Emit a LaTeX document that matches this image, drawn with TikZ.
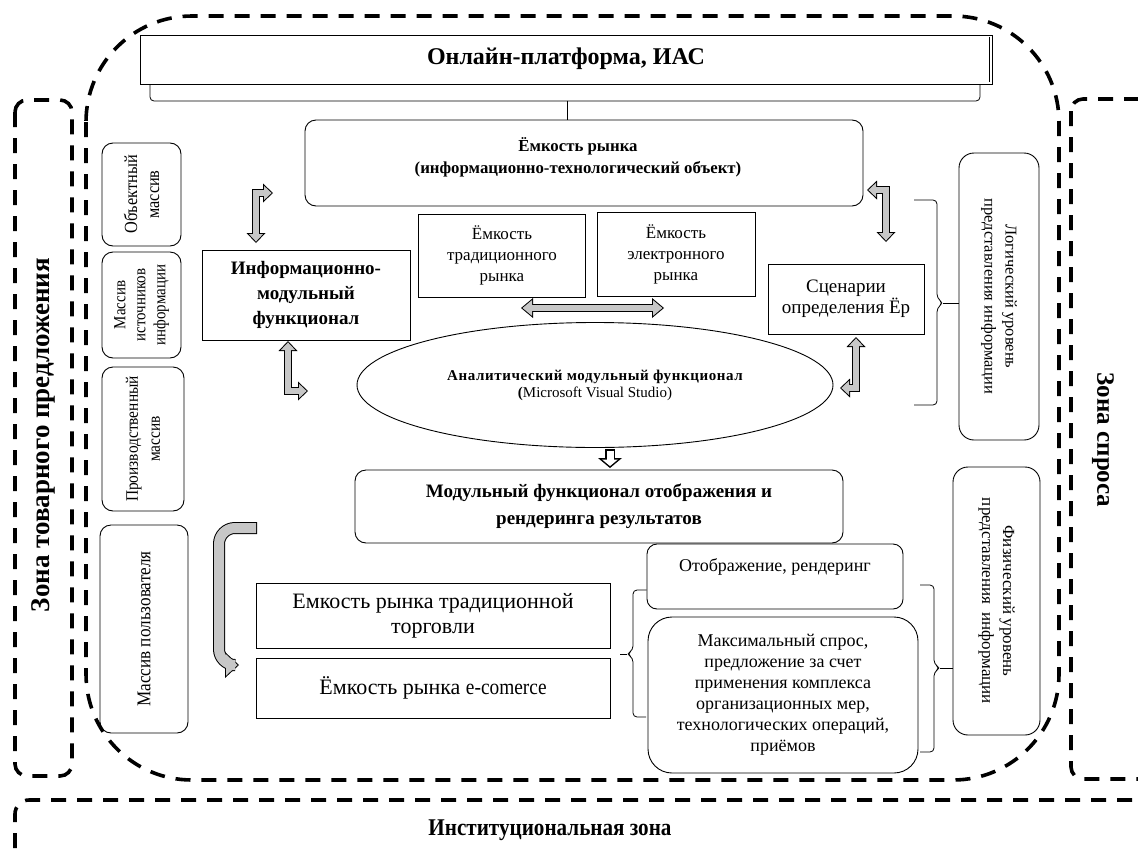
\documentclass[tikz,border=0pt]{standalone}
\usepackage{fontspec}
\setmainfont{Liberation Serif}
\newfontfamily\narrowserif[FakeStretch=0.88]{Liberation Serif}
\usetikzlibrary{arrows.meta,shapes.geometric,calc}
\newcommand\fsz[2]{\fontsize{#1}{#2}\selectfont}
\definecolor{arrowfill}{gray}{0.78}

\tikzset{
  zone/.style={line width=3.6pt, dash pattern=on 15pt off 11pt},
  box/.style={draw, line width=0.9pt, inner sep=0pt, align=center},
  rbox/.style={box, rounded corners=11pt},
  brace/.style={line width=0.8pt, rounded corners=4pt},
  % grey block arrows: black outer stroke, lighter inner stroke
  bentO/.style={draw=black, line width=8pt, line join=miter,
    {Triangle[length=10pt,width=19pt,line width=0pt]}-{Triangle[length=10pt,width=19pt,line width=0pt]}},
  bentI/.style={draw=arrowfill, line width=6pt, line join=miter, shorten <=1.45pt, shorten >=1.45pt,
    {Triangle[length=7.55pt,width=14.3pt,line width=0pt]}-{Triangle[length=7.55pt,width=14.3pt,line width=0pt]}},
  horO/.style={draw=black, line width=8pt,
    {Triangle[length=12pt,width=20pt,line width=0pt]}-{Triangle[length=12pt,width=20pt,line width=0pt]}},
  horI/.style={draw=arrowfill, line width=6pt, shorten <=1.56pt, shorten >=1.56pt,
    {Triangle[length=9.44pt,width=15.7pt,line width=0pt]}-{Triangle[length=9.44pt,width=15.7pt,line width=0pt]}},
  downO/.style={draw=black, line width=10pt, -{Triangle[length=10pt,width=24pt,line width=0pt]}},
  downI/.style={draw=white, line width=7pt, shorten <=1.5pt, shorten >=1.95pt,
    -{Triangle[length=6.55pt,width=15.7pt,line width=0pt]}},
  bigO/.style={draw=black, line width=12pt, rounded corners=16pt,
    -{Triangle[length=14pt,width=26pt,line width=0pt]}},
  bigI/.style={draw=arrowfill, line width=10pt, rounded corners=16pt, shorten <=1pt, shorten >=1.47pt,
    -{Triangle[length=11.5pt,width=21.4pt,line width=0pt]}},
}

\begin{document}
\begin{tikzpicture}[x=1pt, y=-1pt]
\path[use as bounding box] (0,0) rectangle (1138,854);
\clip (0,0) rectangle (1138,854);

% ---- dashed zones ----
\draw[zone, rounded corners=106pt] (86,16) rectangle (1059,780);
\draw[zone, rounded corners=12pt] (15,100) rectangle (72,776);
\draw[zone, rounded corners=12pt] (1071,99) rectangle (1180,779);
\draw[zone, rounded corners=14pt] (15,900) |- (1180,800);

\node[font=\fsz{27}{32}\bfseries, rotate=90] (zsupply) at (43,435) {Зона товарного предложения};
\node[font=\fsz{25}{30}\bfseries, rotate=-90] (zdemand) at (1103,440) {Зона спроса};
\node[font=\narrowserif\fsz{24}{28}\bfseries] (zinst) at (550,830) {Институциональная зона};

% ---- platform header ----
\node[box, minimum width=852pt, minimum height=49pt] (ias) at (566,59.5) {};
\draw[line width=1.6pt] ($(ias.north east)+(-3,2)$) -- ($(ias.south east)+(-3,-2)$);
\node[font=\fsz{24}{30}\bfseries] (iasT) at (566,59) {Онлайн-платформа, ИАС};

% brace under the header
\coordinate (hb) at (567,101);
\draw[brace] (150,84) |- (hb);
\draw[brace] (980,84) |- (hb);

% ---- market capacity ----
\node[rbox, minimum width=558pt, minimum height=86pt] (cap) at (584,163) {};
\node[font=\fsz{16.8}{22}\bfseries, align=center] (capT) at (578,157)
  {Ёмкость рынка\\(информационно-технологический объект)};
\draw[line width=0.8pt] (hb) -- (hb |- cap.north);

% ---- left column of arrays ----
\node[rbox, rotate=90, minimum width=103pt, minimum height=79pt, font=\narrowserif\fsz{18.5}{22}] (obj) at (141.5,194.5) {Объектный\\массив};
\node[rbox, rotate=90, minimum width=106pt, minimum height=79pt, font=\narrowserif\fsz{17}{20}] (src) at (141.5,305) {Массив\\источников\\информации};
\node[rbox, rotate=90, minimum width=144pt, minimum height=82pt, font=\narrowserif\fsz{17.5}{22}] (prod) at (143,439) {Производственный\\массив};
\node[rbox, rotate=90, minimum width=208pt, minimum height=88pt, font=\narrowserif\fsz{19.5}{22}] (user) at (144,629) {Массив пользователя};

% ---- central blocks ----
\node[box, minimum width=208pt, minimum height=90pt, font=\fsz{19}{25}\bfseries] (info) at (306,295) {Информационно-\\модульный\\функционал};
\node[box, minimum width=167pt, minimum height=83pt, font=\fsz{17}{21}] (trad) at (502,255.5) {Ёмкость\\традиционного\\рынка};
\node[box, minimum width=158pt, minimum height=84pt, font=\fsz{17}{21}] (elec) at (676,254) {Ёмкость\\электронного\\рынка};
\node[box, minimum width=156pt, minimum height=70pt, font=\fsz{19}{21}] (scen) at (846,299) {Сценарии\\определения Ёр};
\node[draw, line width=0.9pt, ellipse, inner sep=0pt, minimum width=476pt, minimum height=125pt, align=center, font=\fsz{15}{17}] (ell) at (595,385)
  {{\bfseries\addfontfeatures{LetterSpace=4}Аналитический модульный функционал}\\\textbf{(}Microsoft Visual Studio)};
\node[rbox, minimum width=488pt, minimum height=73pt, font=\fsz{19}{27}\bfseries] (disp) at (599,506.5) {Модульный функционал отображения и\\рендеринга результатов};

\node[box, minimum width=354pt, minimum height=65pt, font=\fsz{22}{25}] (tsale) at (433,615.5) {Емкость рынка традиционной\\торговли};
\node[box, minimum width=354pt, minimum height=60pt, font=\fsz{22}{25}] (ecom) at (433,688) {Ёмкость рынка {\narrowserif e-comerce}};

\node[rbox, rounded corners=10pt, minimum width=256pt, minimum height=65pt] (render) at (775,576.5) {};
\node[font=\fsz{18}{21}] (renderT) at (775,567) {Отображение, рендеринг};
\node[rbox, rounded corners=24pt, minimum width=270pt, minimum height=156pt, font=\fsz{18}{21}] (maxd) at (783,695)
  {Максимальный спрос,\\предложение за счет\\применения комплекса\\организационных мер,\\технологических операций,\\приёмов};

% ---- right column ----
\node[rbox, rounded corners=15pt, rotate=-90, minimum width=287pt, minimum height=80pt, font=\fsz{16.5}{21}] (logic) at (999,296.5) {Логический уровень\\представления информации};
\node[rbox, rounded corners=15pt, rotate=-90, minimum width=268pt, minimum height=87pt, font=\fsz{17}{21}] (phys) at (996.5,601) {Физический уровень\\представления\ \ информации};

% ---- braces ----
\coordinate (lgtip) at (943,303);
\draw[brace] (914,200) -| (937,298) -- (lgtip) -- (937,308) |- (914,405);
\draw[line width=0.8pt] (lgtip) -- (lgtip -| logic.south);
\coordinate (phtip) at (940,668);
\draw[brace] (920,585) -| (934,664) -- (phtip) -- (934,672) |- (920,752);
\draw[line width=0.8pt] (phtip) -- (phtip -| phys.south);
\coordinate (tstip) at (627,654);
\coordinate (tsend) at (620,654);
\draw[brace] (render.west |- 0,590) -| (633,650) -- (tstip) -- (633,658) |- (646,717);
\draw[line width=0.8pt] (tstip) -- (tsend);

% ---- block arrows ----
\coordinate (a1s) at (256,243); \coordinate (a1e) at (273,193);
\draw[bentO] (a1s) |- (a1e); \draw[bentI] (a1s) |- (a1e);
\coordinate (a2s) at (288,341); \coordinate (a2e) at (308,391);
\draw[bentO] (a2s) |- (a2e); \draw[bentI] (a2s) |- (a2e);
\coordinate (a3s) at (867,190); \coordinate (a3e) at (886,242);
\draw[bentO] (a3s) -| (a3e); \draw[bentI] (a3s) -| (a3e);
\coordinate (a4s) at (856,337); \coordinate (a4e) at (840,388);
\draw[bentO] (a4s) |- (a4e); \draw[bentI] (a4s) |- (a4e);
\coordinate (a5s) at (521,308); \coordinate (a5e) at (664,308);
\draw[horO] (a5s) -- (a5e); \draw[horI] (a5s) -- (a5e);
\coordinate (a6s) at (610,449); \coordinate (a6e) at (610,468);
\draw[downO] (a6s) -- (a6e); \draw[downI] (a6s) -- (a6e);
\coordinate (a7s) at (257,528); \coordinate (a7e) at (239,665);
\draw[bigO] (a7s) -- (219,528) -- (219,665) -- (a7e);
\draw[bigI] (a7s) -- (219,528) -- (219,665) -- (a7e);
\end{tikzpicture}
\end{document}
